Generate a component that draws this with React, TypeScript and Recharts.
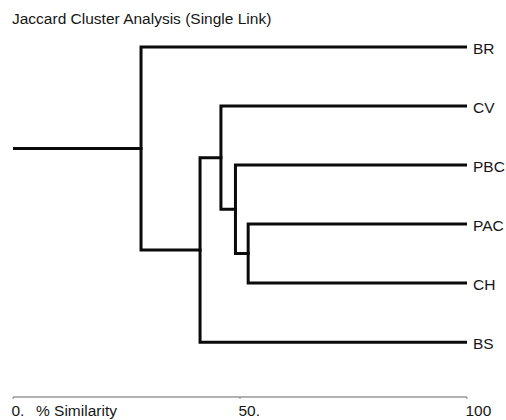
import React from 'react';
import { ComposedChart, Line, XAxis, YAxis } from 'recharts';

const chartTitle = 'Jaccard Cluster Analysis (Single Link)';
const leafLabels = ['BR', 'CV', 'PBC', 'PAC', 'CH', 'BS'];
// merges in order; children are leaf labels or earlier merge ids (m0, m1, ...)
const mergeLeft = ['PAC', 'PBC', 'CV', 'BS', 'BR'];
const mergeRight = ['CH', 'm0', 'm1', 'm2', 'm3'];
const mergeSimilarity = [51.8, 49.0, 45.8, 41.2, 28.2];
const xTicks = [0, 50, 100];
const xTickLabels = ['0.', '50.', '100'];
const xAxisTitle = '% Similarity';
const leafSimilarity = 100;

type Pt = { x: number; y: number };

function buildPaths(): Pt[][] {
  const nodes: Record<string, Pt> = {};
  leafLabels.forEach((l, i) => {
    nodes[l] = { x: leafSimilarity, y: i };
  });
  const paths: Pt[][] = [];
  mergeLeft.forEach((a, i) => {
    const b = mergeRight[i];
    const s = mergeSimilarity[i];
    const na = nodes[a];
    const nb = nodes[b];
    paths.push([
      { x: na.x, y: na.y },
      { x: s, y: na.y },
      { x: s, y: nb.y },
      { x: nb.x, y: nb.y },
    ]);
    nodes['m' + i] = { x: s, y: (na.y + nb.y) / 2 };
  });
  const root = nodes['m' + (mergeLeft.length - 1)];
  paths.push([
    { x: 0, y: root.y },
    { x: root.x, y: root.y },
  ]);
  return paths;
}

const paths = buildPaths();
const FONT = '"Liberation Sans", Arial, Helvetica, sans-serif';
const FS = 15.5;
const TXT = '#161616';

const XTick = (props: any) => {
  const { x, y, payload } = props;
  const idx = xTicks.indexOf(payload.value);
  const label = idx >= 0 ? xTickLabels[idx] : String(payload.value);
  return (
    <g>
      <text x={x - 1.5} y={y + 15} fontSize={FS} fontFamily={FONT} fill={TXT} textAnchor="start">
        {label}
      </text>
      {payload.value === 0 && (
        <text x={x + 23} y={y + 15} fontSize={FS} fontFamily={FONT} fill={TXT} textAnchor="start">
          {xAxisTitle}
        </text>
      )}
    </g>
  );
};

const YTick = (props: any) => {
  const { x, y, payload } = props;
  return (
    <text x={x} y={y + 6.5} fontSize={FS} fontFamily={FONT} fill={TXT} textAnchor="start">
      {leafLabels[payload.value]}
    </text>
  );
};

export default function App() {
  return (
    <div style={{ position: 'absolute', left: 0, top: 0, width: 506, height: 420, background: '#fff' }}>
      <div
        style={{
          position: 'absolute',
          left: 12,
          top: 11,
          fontSize: FS,
          lineHeight: '15px',
          fontFamily: FONT,
          color: TXT,
          whiteSpace: 'nowrap',
        }}
      >
        {chartTitle}
      </div>
      <ComposedChart width={506} height={420} margin={{ top: 17.6, right: 0, bottom: 3, left: 13 }}>
        <XAxis
          type="number"
          dataKey="x"
          domain={[0, 100]}
          ticks={xTicks}
          allowDataOverflow
          height={20}
          tickSize={2}
          tickMargin={2}
          axisLine={{ stroke: '#666', strokeWidth: 1.2 }}
          tickLine={{ stroke: '#888', strokeWidth: 1 }}
          tick={<XTick />}
          interval={0}
        />
        <YAxis
          type="number"
          dataKey="y"
          orientation="right"
          reversed
          domain={[-0.5, 5.93]}
          ticks={[0, 1, 2, 3, 4, 5]}
          allowDataOverflow
          width={39}
          tickSize={4}
          tickMargin={2}
          axisLine={false}
          tickLine={false}
          tick={<YTick />}
          interval={0}
        />
        {paths.map((p, i) => (
          <Line
            key={i}
            data={p}
            dataKey="y"
            type="linear"
            stroke="#0a0a0a"
            strokeWidth={3}
            strokeLinejoin="miter"
            strokeLinecap="square"
            dot={false}
            activeDot={false}
            isAnimationActive={false}
          />
        ))}
      </ComposedChart>
    </div>
  );
}
